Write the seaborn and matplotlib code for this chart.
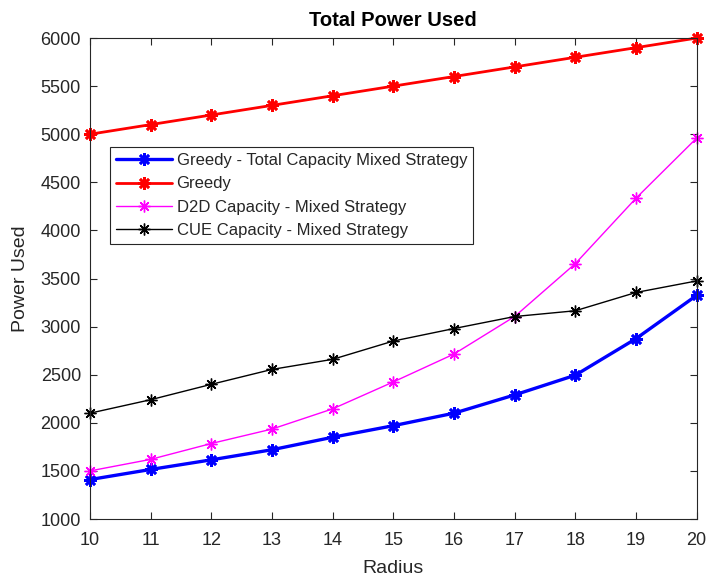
import matplotlib
matplotlib.use("Agg")
import matplotlib.pyplot as plt
import seaborn as sns
import pandas as pd

radius = [10, 11, 12, 13, 14, 15, 16, 17, 18, 19, 20]
greedy_total_mixed = [1410, 1515, 1615, 1720, 1850, 1970, 2100, 2290, 2495, 2875, 3325]
greedy = [5000, 5100, 5200, 5300, 5400, 5500, 5600, 5700, 5800, 5900, 6000]
d2d_mixed = [1500, 1620, 1785, 1935, 2145, 2425, 2715, 3105, 3655, 4335, 4960]
cue_mixed = [2100, 2240, 2400, 2555, 2660, 2850, 2980, 3105, 3165, 3355, 3475]

series_names = [
    "Greedy - Total Capacity Mixed Strategy",
    "Greedy",
    "D2D Capacity - Mixed Strategy",
    "CUE Capacity - Mixed Strategy",
]
series_values = [greedy_total_mixed, greedy, d2d_mixed, cue_mixed]
colors = ["#0000ff", "#ff0000", "#ff00ff", "#000000"]
widths = [2.4, 2.0, 1.0, 1.0]
marker_sizes = [9, 9, 8.5, 8.5]
marker_edges = [1.9, 1.9, 1.0, 1.0]

df = pd.DataFrame({
    "Radius": radius * len(series_names),
    "Power Used": sum(series_values, []),
    "Series": [n for n in series_names for _ in radius],
})

sns.set_style("ticks")
plt.rcParams["font.family"] = ["Liberation Sans", "DejaVu Sans"]

fig = plt.figure(figsize=(7.08, 5.79), dpi=100)
ax = fig.add_axes([0.127, 0.1036, 0.857, 0.8307])

asterisk = (8, 2, 0)
for name, col, lw, ms, mew in zip(series_names, colors, widths, marker_sizes, marker_edges):
    sub = df[df["Series"] == name]
    sns.lineplot(data=sub, x="Radius", y="Power Used", ax=ax, color=col,
                 linewidth=lw, marker=asterisk, markersize=ms,
                 markeredgewidth=mew, markeredgecolor=col, label=name,
                 clip_on=False)

ax.set_xlim(10, 20)
ax.set_ylim(1000, 6000)
ax.set_xticks(radius)
ax.set_yticks(range(1000, 6001, 500))

text_col = "#262626"
for s in ax.spines.values():
    s.set_visible(True)
    s.set_color(text_col)
    s.set_linewidth(0.8)
ax.tick_params(direction="in", length=5, width=0.8, colors=text_col,
               labelsize=13, top=True, right=True, labelcolor=text_col)
ax.tick_params(axis="x", pad=9)
ax.tick_params(axis="y", pad=6.5)
ax.set_xlabel("Radius", fontsize=14, color=text_col, labelpad=8)
ax.set_ylabel("Power Used", fontsize=14, color=text_col, labelpad=8)
ax.set_title("Total Power Used", fontsize=14.5, fontweight="bold", color="black", pad=9)

leg = ax.legend(loc="upper left", bbox_to_anchor=(0.033, 0.773), fontsize=12,
                frameon=True, fancybox=False, borderpad=0.35, labelspacing=0.5,
                handlelength=3.4, handletextpad=0.25, borderaxespad=0)
leg.get_frame().set_edgecolor(text_col)
leg.get_frame().set_linewidth(0.8)
leg.get_frame().set_alpha(1)

fig.savefig("out.png", dpi=100)
